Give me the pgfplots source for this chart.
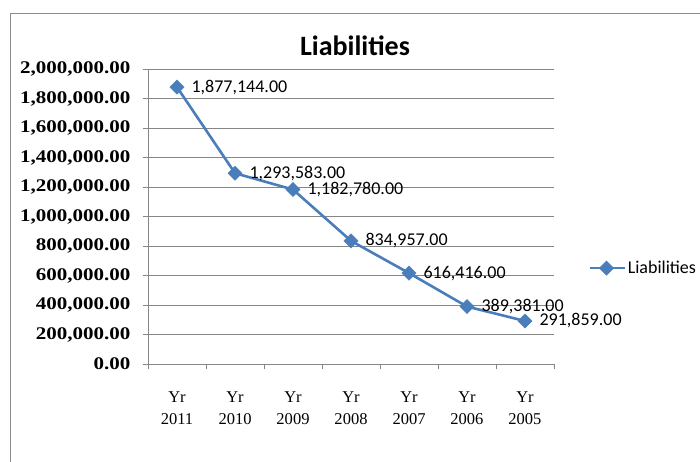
\documentclass[border=0pt]{standalone}
\usepackage{fontspec}
\setmainfont{Liberation Serif}
\newfontfamily\calibri{Carlito}
\newfontfamily\ylabfont[FakeStretch=1.18]{Liberation Serif}
\usepackage{pgfplots}
\pgfplotsset{compat=1.18}
\definecolor{exblue}{RGB}{74,126,187}
\definecolor{gridgray}{RGB}{134,134,134}
\definecolor{framegray}{RGB}{140,140,140}

\begin{document}
\begin{tikzpicture}[x=1pt,y=1pt]
\useasboundingbox (0,0) rectangle (700,-461);
\draw[framegray, line width=1pt] (10,-480) -- (10,-13) -- (720,-13);
\begin{axis}[
    at={(148pt,-364pt)}, anchor=south west,
    width=406pt, height=295pt, scale only axis,
    xmin=-0.5, xmax=6.5, ymin=0, ymax=2000000,
    clip=false,
    axis lines*=left,
    axis line style={draw=gridgray, line width=0.8pt, -},
    tick align=outside,
    major tick length=5pt,
    tick style={gridgray, line width=0.8pt},
    xtick={-0.5,0.5,1.5,2.5,3.5,4.5,5.5,6.5},
    xticklabels={},
    extra x ticks={0,1,2,3,4,5,6},
    extra x tick labels={{Yr\\2011},{Yr\\2010},{Yr\\2009},{Yr\\2008},{Yr\\2007},{Yr\\2006},{Yr\\2005}},
    extra x tick style={major tick length=0pt, grid=none},
    xticklabel style={align=center, font=\fontsize{16.5}{22}\selectfont, yshift=-24pt},
    ytick={0,200000,400000,600000,800000,1000000,1200000,1400000,1600000,1800000,2000000},
    scaled y ticks=false,
    yticklabel style={font=\ylabfont\bfseries\fontsize{17.8}{17.8}\selectfont, xshift=-9pt},
    /pgf/number format/.cd, fixed, fixed zerofill, precision=2, 1000 sep={,}, assume math mode=true,
    /pgfplots/.cd,
    ymajorgrids,
    grid style={gridgray, line width=0.8pt},
    title={Liabilities},
    title style={font=\calibri\bfseries\fontsize{28}{28}\selectfont, at={(0.5,1)}, anchor=center, yshift=17pt, xshift=4pt},
    nodes near coords,
    nodes near coords align={anchor=west},
    every node near coord/.append style={font=\calibri\fontsize{18}{18}\selectfont, text=black, xshift=11pt},
    legend style={at={(1,0.325)}, anchor=west, xshift=34pt, draw=none, fill=none,
        font=\calibri\fontsize{18}{18}\selectfont, inner sep=0pt},
    legend image code/.code={\draw[#1, mark repeat=2, mark phase=2] plot coordinates {(0pt,0pt) (17pt,0pt) (35pt,0pt)};},
]
\addplot[exblue, line width=2.6pt, mark=square*, mark size=5pt,
    mark options={solid, rotate=45, fill=exblue, draw=exblue, line width=0.5pt}]
    coordinates {(0,1877144) (1,1293583) (2,1182780) (3,834957) (4,616416) (5,389381) (6,291859)};
\legend{Liabilities}
\end{axis}
\end{tikzpicture}
\end{document}
